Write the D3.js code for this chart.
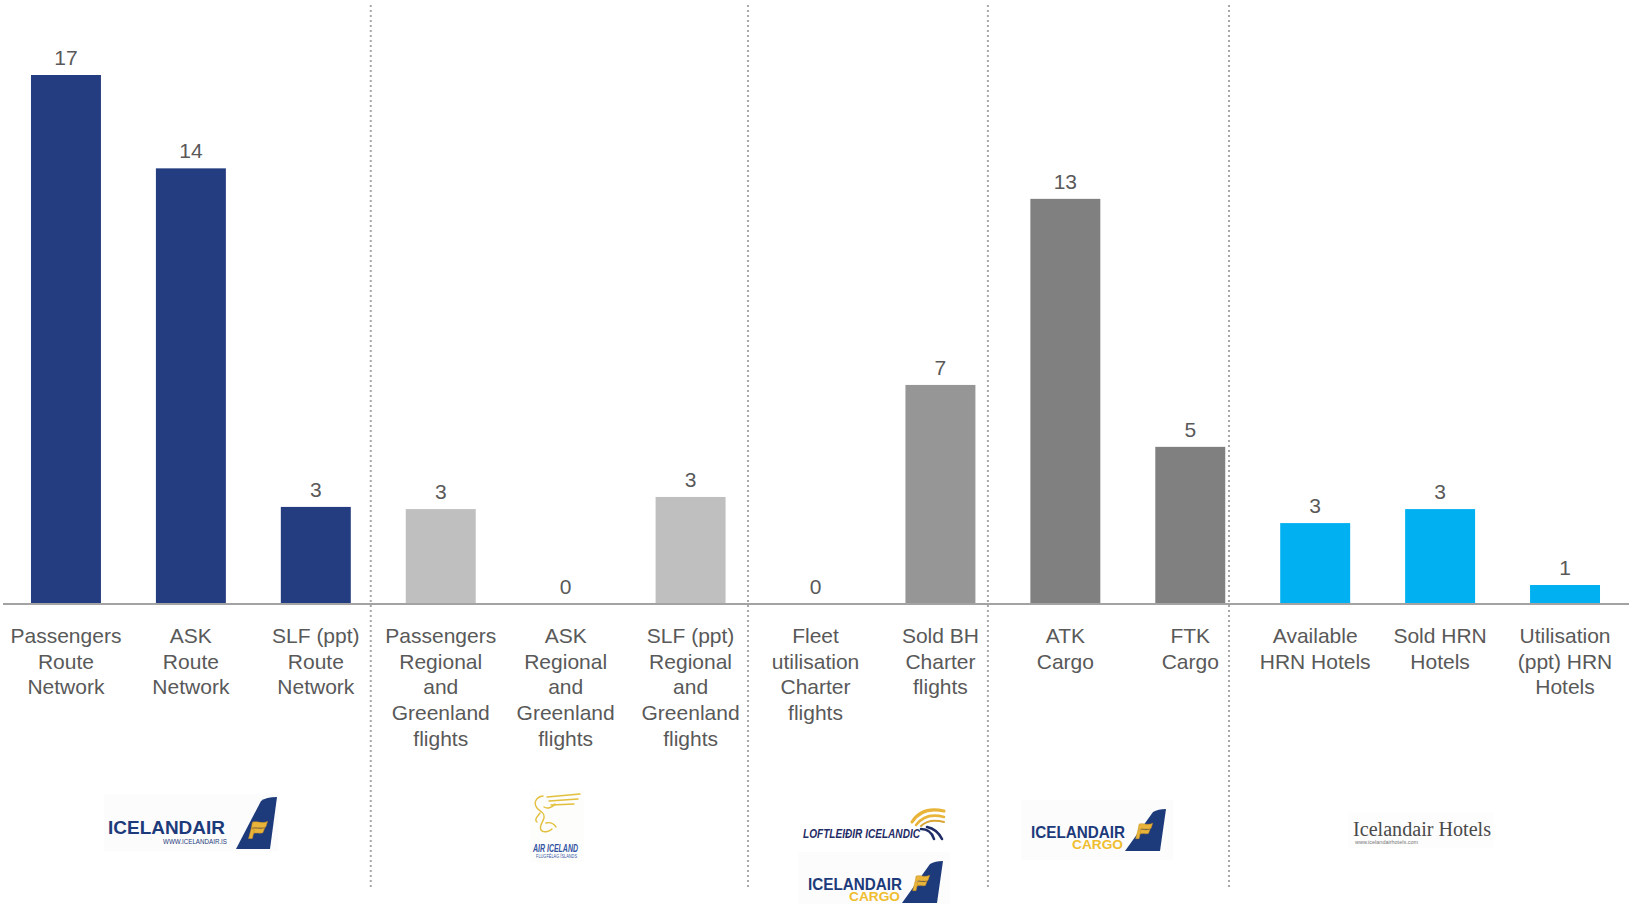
<!DOCTYPE html>
<html>
<head>
<meta charset="utf-8">
<script src="https://cdn.jsdelivr.net/npm/d3@7"></script>
<style>
  html, body { margin: 0; padding: 0; background: #ffffff; }
  svg { display: block; font-family: "Liberation Sans", Arial, sans-serif; }
</style>
</head>
<body>
<svg id="chart" width="1629" height="904"></svg>
<script>
// Change vs. previous year, by business unit
const categories = [
  ["Passengers", "Route", "Network"],
  ["ASK", "Route", "Network"],
  ["SLF (ppt)", "Route", "Network"],
  ["Passengers", "Regional", "and", "Greenland", "flights"],
  ["ASK", "Regional", "and", "Greenland", "flights"],
  ["SLF (ppt)", "Regional", "and", "Greenland", "flights"],
  ["Fleet", "utilisation", "Charter", "flights"],
  ["Sold BH", "Charter", "flights"],
  ["ATK", "Cargo"],
  ["FTK", "Cargo"],
  ["Available", "HRN Hotels"],
  ["Sold HRN", "Hotels"],
  ["Utilisation", "(ppt) HRN", "Hotels"]
];
const values = [17.0, 14.0, 3.12, 3.05, 0, 3.44, 0, 7.04, 13.02, 5.05, 2.6, 3.05, 0.61];
const unitOf = ["route", "route", "route", "regional", "regional", "regional",
                "charter", "charter", "cargo", "cargo", "hotels", "hotels", "hotels"];
const unitColors = {
  route: "#243c80",
  regional: "#bfbfbf",
  charter: "#969696",
  cargo: "#808080",
  hotels: "#00b0f0"
};
// Separators between business units, in band steps from the left edge
const separators = [2.94, 5.96, 7.88, 9.81];

const svg = d3.select("#chart");
const W = 1629, H = 904;
const baseY = 604;

const x = d3.scaleBand()
  .domain(d3.range(categories.length))
  .range([3.5, 1627.5])
  .paddingInner(0.44)
  .paddingOuter(0.22);

const y = d3.scaleLinear().domain([0, 17]).range([baseY, 75]);

const step = x.step();
const sepX = d3.scaleLinear().domain([0, categories.length]).range([3.5, 3.5 + step * categories.length]);

// Bars
svg.append("g").selectAll("rect")
  .data(values)
  .join("rect")
  .attr("x", (d, i) => x(i))
  .attr("y", d => y(Math.max(0, d)))
  .attr("width", x.bandwidth())
  .attr("height", d => Math.abs(y(d) - y(0)))
  .attr("fill", (d, i) => unitColors[unitOf[i]]);

// Value labels
const fmt = d3.format(".0f");
svg.append("g").selectAll("text")
  .data(values)
  .join("text")
  .attr("x", (d, i) => x(i) + x.bandwidth() / 2)
  .attr("y", d => y(Math.max(0, d)) - 10)
  .attr("text-anchor", "middle")
  .attr("font-size", 21)
  .attr("fill", "#595959")
  .text(d => fmt(d));

// Baseline
svg.append("line")
  .attr("x1", 3).attr("x2", W)
  .attr("y1", baseY).attr("y2", baseY)
  .attr("stroke", "#a3a3a3")
  .attr("stroke-width", 2);

// Unit separators
svg.append("g").selectAll("line")
  .data(separators)
  .join("line")
  .attr("x1", d => sepX(d)).attr("x2", d => sepX(d))
  .attr("y1", 5).attr("y2", 890)
  .attr("stroke", "#a8a8a8")
  .attr("stroke-width", 2)
  .attr("stroke-dasharray", "2,3");

// Category labels
const lab = svg.append("g").selectAll("text")
  .data(categories)
  .join("text")
  .attr("text-anchor", "middle")
  .attr("font-size", 21)
  .attr("fill", "#595959");
lab.each(function(lines, i) {
  const cx = x(i) + x.bandwidth() / 2;
  d3.select(this).selectAll("tspan")
    .data(lines)
    .join("tspan")
    .attr("x", cx)
    .attr("y", (d, j) => 643 + j * 25.7)
    .text(d => d);
});

// ---- Business unit emblems ----
const navy = "#1d3a7b";
const gold = "#e8b53a";
const logos = svg.append("g");

function tail(g, pts, emblemCx, emblemCy, s) {
  g.append("path").attr("d", pts).attr("fill", navy);
  const e = g.append("g").attr("transform", `translate(${emblemCx},${emblemCy}) scale(${s})`);
  e.append("path")
    .attr("d", "M-7,-8 C-3,-10 3,-6 9,-9 L7,-3 C2,-1 -3,-4 -8,-2 Z")
    .attr("fill", gold).attr("stroke", "#c98d22").attr("stroke-width", 0.6);
  e.append("path")
    .attr("d", "M-8,-1 C-4,-3 1,0 6,-2 L4,3 C0,4 -4,2 -7,4 Z")
    .attr("fill", gold).attr("stroke", "#c98d22").attr("stroke-width", 0.6);
  e.append("path")
    .attr("d", "M-8,-2 L-11,9 L-7,9 L-5,0 Z")
    .attr("fill", gold).attr("stroke", "#c98d22").attr("stroke-width", 0.6);
}

// Icelandair
{
  const g = logos.append("g");
  g.append("rect").attr("x", 104).attr("y", 794).attr("width", 174).attr("height", 57).attr("fill", "#fcfcfc");
  g.append("text").attr("x", 108).attr("y", 834).attr("font-size", 19).attr("font-weight", "bold")
    .attr("fill", navy).attr("textLength", 117).attr("lengthAdjust", "spacingAndGlyphs").text("ICELANDAIR");
  g.append("text").attr("x", 163).attr("y", 844).attr("font-size", 7)
    .attr("fill", navy).attr("textLength", 64).attr("lengthAdjust", "spacingAndGlyphs").text("WWW.ICELANDAIR.IS");
  tail(g, "M236,849 L261,801 Q266,797 277,797 L270,849 Z", 259, 830, 0.95);
}

// Air Iceland
{
  const g = logos.append("g");
  g.append("rect").attr("x", 530).attr("y", 790).attr("width", 54).attr("height", 72).attr("fill", "#fdfdfb");
  const st = { stroke: "#e2bf3c", "stroke-width": 1.4, fill: "none", "stroke-linecap": "round" };
  const lines = [
    "M547,797 L580,794",
    "M549,801 L578,799",
    "M551,805 L574,804",
    "M543,796 C536,797 533,803 537,808 C540,812 545,812 544,818 C542,824 539,826 541,830 C543,833 549,832 552,829",
    "M544,807 C547,809 552,808 555,804",
    "M540,813 C537,817 534,820 537,822",
    "M546,823 C550,822 554,824 556,827"
  ];
  lines.forEach(d => {
    const p = g.append("path").attr("d", d);
    Object.entries(st).forEach(([k, v]) => p.attr(k, v));
  });
  g.append("text").attr("x", 533).attr("y", 852).attr("font-size", 10).attr("font-weight", "bold")
    .attr("font-style", "italic").attr("fill", "#3254a3")
    .attr("textLength", 45).attr("lengthAdjust", "spacingAndGlyphs").text("AIR ICELAND");
  g.append("text").attr("x", 536).attr("y", 858).attr("font-size", 4.5)
    .attr("fill", "#3254a3").attr("textLength", 41).attr("lengthAdjust", "spacingAndGlyphs").text("FLUGFÉLAG ÍSLANDS");
}

// Loftleiðir Icelandic
{
  const g = logos.append("g");
  g.append("text").attr("x", 803).attr("y", 838).attr("font-size", 12.5).attr("font-weight", "bold")
    .attr("font-style", "italic").attr("fill", "#1f2c66")
    .attr("textLength", 117).attr("lengthAdjust", "spacingAndGlyphs").text("LOFTLEIÐIR ICELANDIC");
  [["M912,822 Q922,806 944,811", gold, 3.2],
   ["M916,825 Q926,812 944,817", gold, 2.6],
   ["M921,826 Q929,818 944,822", "#d9a536", 2],
   ["M921,829 Q931,829 934,839", "#1f2c66", 2.6],
   ["M927,827 Q937,829 942,839", "#1f2c66", 2.6]
  ].forEach(([d, c, w]) => g.append("path").attr("d", d).attr("fill", "none")
      .attr("stroke", c).attr("stroke-width", w).attr("stroke-linecap", "round"));
}

// Icelandair Cargo (twice)
function cargoLogo(ox, oy) {
  const g = logos.append("g").attr("transform", `translate(${ox},${oy})`);
  g.append("rect").attr("x", -10).attr("y", -28).attr("width", 152).attr("height", 60).attr("fill", "#fcfcfc");
  g.append("text").attr("x", 0).attr("y", 10).attr("font-size", 16.5).attr("font-weight", "bold")
    .attr("fill", navy).attr("textLength", 94).attr("lengthAdjust", "spacingAndGlyphs").text("ICELANDAIR");
  g.append("text").attr("x", 41).attr("y", 21).attr("font-size", 12).attr("font-weight", "bold")
    .attr("fill", "#efbd2d").attr("textLength", 51).attr("lengthAdjust", "spacingAndGlyphs").text("CARGO");
  tail(g, "M94,23 L122,-16 Q127,-19 135,-19 L129,23 Z", 114, 3, 0.85);
}
cargoLogo(1031, 828);
cargoLogo(808, 880);

// Icelandair Hotels
{
  const g = logos.append("g");
  g.append("rect").attr("x", 1348).attr("y", 812).attr("width", 146).attr("height", 36).attr("fill", "#fdfdfd");
  g.append("text").attr("x", 1353).attr("y", 836).attr("font-size", 20)
    .style("font-family", "'Liberation Serif', 'Times New Roman', serif")
    .attr("fill", "#4a4a4a").attr("textLength", 138).attr("lengthAdjust", "spacingAndGlyphs").text("Icelandair Hotels");
  g.append("text").attr("x", 1355).attr("y", 844).attr("font-size", 5)
    .attr("fill", "#777").attr("textLength", 63).attr("lengthAdjust", "spacingAndGlyphs").text("www.icelandairhotels.com");
}
</script>
</body>
</html>
